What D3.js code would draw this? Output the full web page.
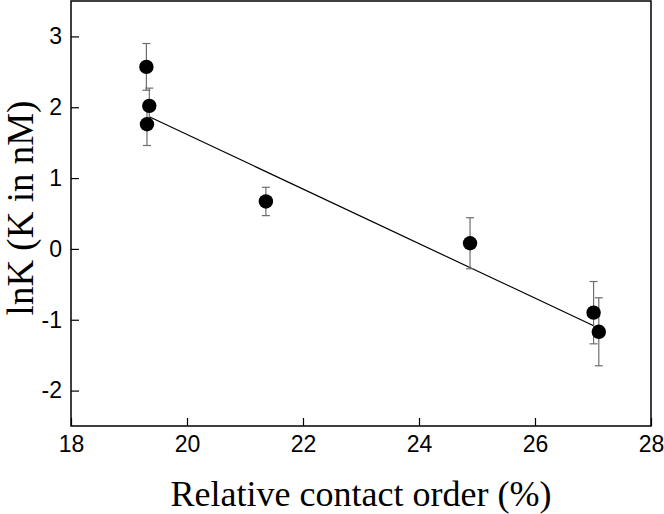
<!DOCTYPE html>
<html>
<head>
<meta charset="utf-8">
<script src="https://cdn.jsdelivr.net/npm/d3@7/dist/d3.min.js"></script>
<style>
  html, body { margin: 0; padding: 0; background: #fff; }
  svg { display: block; }
</style>
</head>
<body>
<svg id="chart" width="664" height="514"></svg>
<script>
// ---- data ----
const contactOrder = [19.30, 19.35, 19.31, 21.36, 24.88, 27.01, 27.10];
const lnK          = [2.57, 2.02, 1.76, 0.67, 0.08, -0.90, -1.17];
const lnKError     = [0.33, 0.25, 0.30, 0.20, 0.36, 0.44, 0.48];
const fitX         = [19.35, 27.02];
const fitY         = [1.866, -1.088];
const xTicks       = [18, 20, 22, 24, 26, 28];
const yTicks       = [-2, -1, 0, 1, 2, 3];
const xDomain      = [18, 28];
const yDomain      = [-2.5, 3.5];

const svg = d3.select("#chart");
const margin = { left: 71, right: 13, top: 1, bottom: 88 };
const W = 664, H = 514;
const x = d3.scaleLinear().domain(xDomain).range([margin.left, W - margin.right]);
const y = d3.scaleLinear().domain(yDomain).range([H - margin.bottom, margin.top]);

// frame
svg.append("rect")
  .attr("x", x(xDomain[0])).attr("y", y(yDomain[1]))
  .attr("width", x(xDomain[1]) - x(xDomain[0]))
  .attr("height", y(yDomain[0]) - y(yDomain[1]))
  .attr("fill", "none").attr("stroke", "#000").attr("stroke-width", 1.5);

// axes
const xAxis = d3.axisBottom(x).tickValues(xTicks).tickSizeInner(-8).tickSizeOuter(0).tickPadding(10).tickFormat(d3.format("d"));
const yAxis = d3.axisLeft(y).tickValues(yTicks).tickSizeInner(-8).tickSizeOuter(0).tickPadding(9).tickFormat(d3.format("d"));

const gx = svg.append("g").attr("transform", `translate(0,${y(yDomain[0])})`).call(xAxis);
const gy = svg.append("g").attr("transform", `translate(${x(xDomain[0])},0)`).call(yAxis);
[gx, gy].forEach(g => {
  g.select(".domain").remove();
  g.selectAll(".tick line").attr("stroke", "#000").attr("stroke-width", 1.2);
  g.selectAll(".tick text").attr("fill", "#000")
    .style("font-family", "'Liberation Sans', Arial, sans-serif").style("font-size", "23px");
});
gy.selectAll(".tick text").text(d => d < 0 ? "-" + Math.abs(d) : d);

// fit line
svg.append("line")
  .attr("x1", x(fitX[0])).attr("y1", y(fitY[0]))
  .attr("x2", x(fitX[1])).attr("y2", y(fitY[1]))
  .attr("stroke", "#000").attr("stroke-width", 1.2);

// error bars
const pts = contactOrder.map((cx, i) => ({ cx, cy: lnK[i], e: lnKError[i] }));
const eb = svg.append("g").attr("stroke", "#6e6e6e").attr("stroke-width", 1.2);
pts.forEach(p => {
  eb.append("line").attr("x1", x(p.cx)).attr("x2", x(p.cx))
    .attr("y1", y(p.cy - p.e)).attr("y2", y(p.cy + p.e));
  [p.cy - p.e, p.cy + p.e].forEach(v => {
    eb.append("line").attr("x1", x(p.cx) - 4).attr("x2", x(p.cx) + 4)
      .attr("y1", y(v)).attr("y2", y(v));
  });
});

// points
svg.append("g").selectAll("circle").data(pts).join("circle")
  .attr("cx", d => x(d.cx)).attr("cy", d => y(d.cy)).attr("r", 7.2).attr("fill", "#000");

// titles
svg.append("text")
  .attr("x", (x(xDomain[0]) + x(xDomain[1])) / 2).attr("y", 506)
  .attr("text-anchor", "middle")
  .style("font-family", "'Liberation Serif', 'Times New Roman', serif").style("font-size", "36px")
  .text("Relative contact order (%)");

svg.append("text")
  .attr("transform", `translate(33,208) rotate(-90)`)
  .attr("text-anchor", "middle")
  .style("font-family", "'Liberation Serif', 'Times New Roman', serif").style("font-size", "37px")
  .text("lnK (K in nM)");
</script>
</body>
</html>
